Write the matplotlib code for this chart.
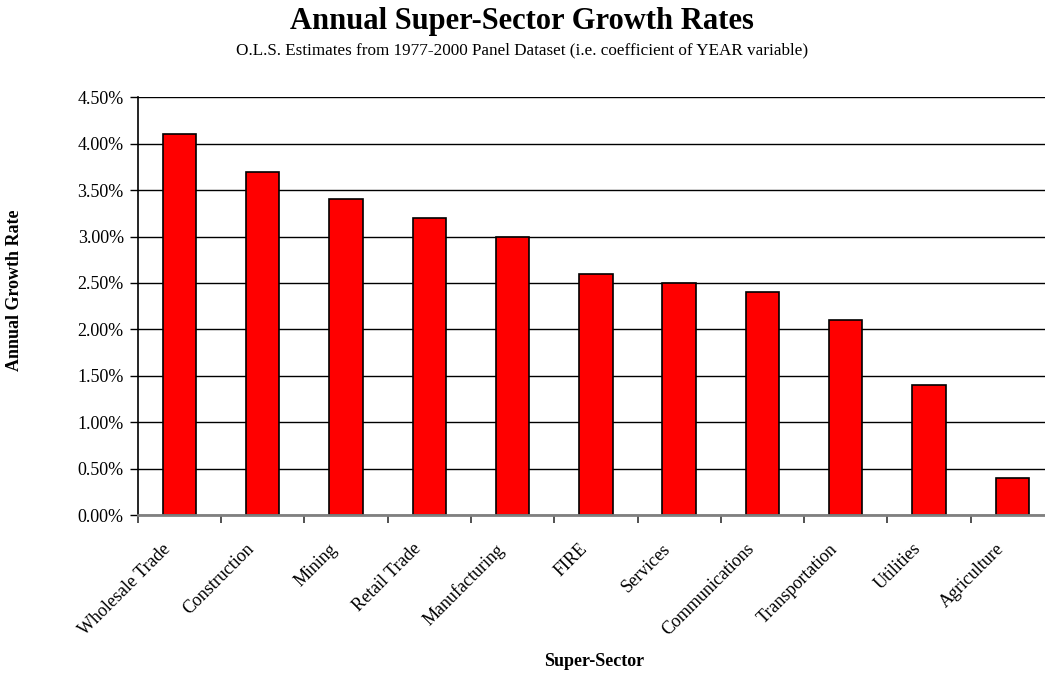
import matplotlib
matplotlib.use("Agg")
import matplotlib.pyplot as plt
import matplotlib.transforms as mtransforms
from matplotlib.ticker import FuncFormatter, MultipleLocator

sectors = ["Wholesale Trade", "Construction", "Mining", "Retail Trade", "Manufacturing",
           "FIRE", "Services", "Communications", "Transportation", "Utilities", "Agriculture"]
growth = [4.1, 3.7, 3.4, 3.2, 3.0, 2.6, 2.5, 2.4, 2.1, 1.4, 0.4]

plt.rcParams["font.family"] = ["Liberation Serif", "DejaVu Serif"]

W, H = 1045, 673
fig = plt.figure(figsize=(W / 100, H / 100), dpi=100)
left, right, top, bottom = 137.7, 1054, 97.3, 515
ax = fig.add_axes([left / W, 1 - bottom / H, (right - left) / W, (bottom - top) / H])

x = list(range(len(sectors)))
ax.bar(x, growth, width=0.4, color="#ff0000", edgecolor="black", linewidth=1.2, zorder=3)

ax.set_xlim(-0.5, len(sectors) - 0.5)
ax.set_ylim(0, 4.5)
ax.yaxis.set_major_locator(MultipleLocator(0.5))
ax.yaxis.set_major_formatter(FuncFormatter(lambda v, p: f"{v:.2f}%"))
ax.yaxis.grid(True, color="black", linewidth=1.0, zorder=0)

# category boundaries carry the tick marks, centres carry the labels
ax.set_xticks([i - 0.5 for i in range(len(sectors))], minor=False)
ax.set_xticklabels([])
ax.set_xticks(x, minor=True)
ax.set_xticklabels(sectors, minor=True, rotation=45, ha="right", va="top",
                   rotation_mode="anchor", fontsize=13)
ax.tick_params(axis="x", which="minor", length=0, pad=14)
ax.tick_params(axis="x", which="major", length=6, width=1.2, color="#333333", direction="out")
ax.tick_params(axis="y", length=6, width=1.0, direction="out", labelsize=13, pad=4)

shift = mtransforms.ScaledTranslation(-17 / 100, -6 / 100, fig.dpi_scale_trans)
for lbl in ax.get_xticklabels(minor=True):
    lbl.set_transform(lbl.get_transform() + shift)

for s in ["top", "right"]:
    ax.spines[s].set_visible(False)
ax.spines["left"].set_color("black")
ax.spines["left"].set_linewidth(1.2)
ax.spines["bottom"].set_color("#808080")
ax.spines["bottom"].set_linewidth(2.0)
ax.spines["bottom"].set_zorder(4)

fig.text(522 / W, 1 - 22 / H, "Annual Super-Sector Growth Rates", ha="center", va="center",
         fontsize=22, fontweight="bold")
fig.text(522 / W, 1 - 50 / H,
         "O.L.S. Estimates from 1977-2000 Panel Dataset (i.e. coefficient of YEAR variable)",
         ha="center", va="center", fontsize=12.3)
fig.text(594 / W, 1 - 661 / H, "Super-Sector", ha="center", va="center",
         fontsize=13, fontweight="bold")
fig.text(15 / W, 1 - 290 / H, "Annual Growth Rate", ha="center", va="center",
         rotation=90, fontsize=13, fontweight="bold")

fig.savefig("out.png", dpi=100)
